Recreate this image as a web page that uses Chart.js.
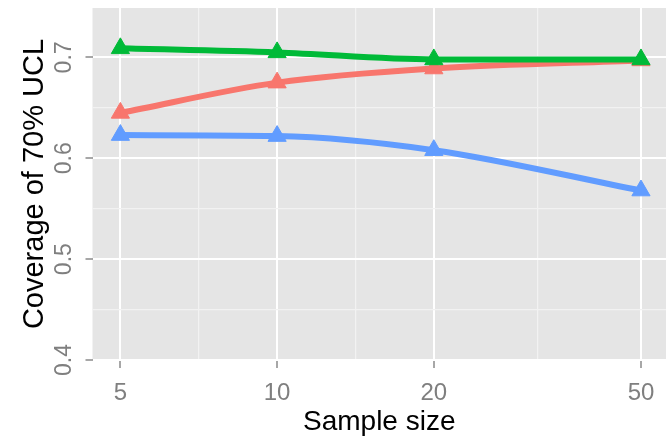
<!DOCTYPE html>
<html lang="en">
<head>
    <meta charset="UTF-8">
    <title>Coverage of 70% UCL</title>
    <script src="https://cdn.jsdelivr.net/npm/chart.js"></script>
    <style>
        html, body {
            margin: 0;
            padding: 0;
            background: #ffffff;
        }
        canvas {
            display: block;
        }
    </style>
</head>
<body>
    <canvas id="coverageChart" width="666" height="437"></canvas>
    <script>
        // Values
        const sampleSizes = [5, 10, 20, 50];
        const coverageGreen = [0.709, 0.705, 0.698, 0.698];
        const coverageRed = [0.645, 0.675, 0.689, 0.697];
        const coverageBlue = [0.623, 0.622, 0.608, 0.568];

        // Axis breaks (majors labelled, minors blank like ggplot)
        const xTickValues = [5, 7.07, 10, 14.14, 20, 31.62, 50];
        const xTickLabels = ['5', '', '10', '', '20', '', '50'];
        const yTickValues = [0.4, 0.45, 0.5, 0.55, 0.6, 0.65, 0.7];
        const yTickLabels = ['0.4', '', '0.5', '', '0.6', '', '0.7'];

        const fontFamily = '"Liberation Sans", Arial, sans-serif';
        const tickGray = '#7f7f7f';

        // Grey panel behind the grid
        const plotBackground = {
            id: 'plotBackground',
            beforeDraw(chart) {
                const { ctx, chartArea } = chart;
                ctx.save();
                ctx.fillStyle = '#e5e5e5';
                ctx.fillRect(chartArea.left, chartArea.top,
                    chartArea.right - chartArea.left, chartArea.bottom - chartArea.top);
                ctx.restore();
            }
        };

        function gridFor(labels, tickLength) {
            return {
                color: c => labels[c.index] ? '#ffffff' : '#f2f2f2',
                lineWidth: c => labels[c.index] ? 2 : 1.2,
                tickColor: c => labels[c.index] ? '#8a8a8a' : 'rgba(0,0,0,0)',
                tickLength: tickLength,
                tickWidth: 1.5
            };
        }

        function series(values, color) {
            return {
                data: values,
                borderColor: color,
                backgroundColor: color,
                pointBackgroundColor: color,
                pointBorderColor: color,
                borderWidth: 6,
                pointStyle: 'triangle',
                pointRadius: 10.5,
                pointBorderWidth: 1,
                cubicInterpolationMode: 'monotone',
                fill: false
            };
        }

        const ctx = document.getElementById('coverageChart').getContext('2d');
        const coverageChart = new Chart(ctx, {
            type: 'line',
            data: {
                labels: sampleSizes,
                datasets: [
                    series(coverageGreen, '#00ba38'),
                    series(coverageRed, '#f8766d'),
                    series(coverageBlue, '#619cff')
                ]
            },
            options: {
                responsive: false,
                animation: false,
                events: [],
                layout: { autoPadding: false, padding: { left: 0, right: 0, top: 8, bottom: 0 } },
                plugins: {
                    legend: { display: false },
                    tooltip: { enabled: false }
                },
                scales: {
                    x: {
                        type: 'logarithmic',
                        bounds: 'data',
                        min: 4.42,
                        max: 55.85,
                        afterBuildTicks: s => { s.ticks = xTickValues.map(v => ({ value: v })); },
                        afterFit: s => { s.height = 77; s.paddingLeft = 0; s.paddingRight = 0; },
                        ticks: {
                            autoSkip: false,
                            minRotation: 0,
                            maxRotation: 0,
                            padding: 11,
                            color: tickGray,
                            font: { family: fontFamily, size: 24 },
                            callback: (v, i) => xTickLabels[i]
                        },
                        grid: gridFor(xTickLabels, 8),
                        border: { display: false },
                        title: {
                            display: true,
                            text: 'Sample size',
                            color: '#000000',
                            font: { family: fontFamily, size: 28 },
                            padding: { top: 0, bottom: -2 }
                        }
                    },
                    y: {
                        type: 'linear',
                        bounds: 'data',
                        min: 0.4,
                        max: 0.749,
                        afterBuildTicks: s => { s.ticks = yTickValues.map(v => ({ value: v })); },
                        afterFit: s => { s.width = 92.5; s.paddingTop = 0; s.paddingBottom = 0; },
                        ticks: {
                            autoSkip: false,
                            minRotation: 90,
                            maxRotation: 90,
                            crossAlign: 'center',
                            padding: 5,
                            color: tickGray,
                            font: { family: fontFamily, size: 23 },
                            callback: (v, i) => yTickLabels[i]
                        },
                        grid: gridFor(yTickLabels, 7),
                        border: { display: false },
                        title: {
                            display: true,
                            text: 'Coverage of 70% UCL',
                            color: '#000000',
                            font: { family: fontFamily, size: 29 },
                            padding: { top: 18, bottom: 0 }
                        }
                    }
                }
            },
            plugins: [plotBackground]
        });
    </script>
</body>
</html>
